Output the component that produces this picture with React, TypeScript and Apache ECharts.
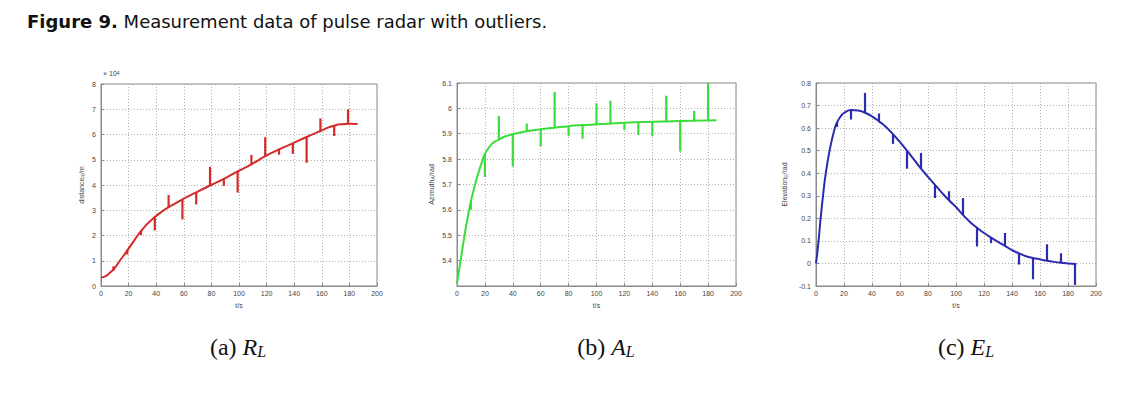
import React, { useEffect, useRef } from "react";
import * as echarts from "echarts";

// ---------- data ----------
const xTicks = [0, 20, 40, 60, 80, 100, 120, 140, 160, 180, 200];

// (a) range R_L in metres
const rT = [0, 3, 6, 10, 14, 18, 23, 28, 33, 39, 44, 49, 59, 69, 79, 89, 99, 109, 119, 129, 139, 149, 159, 165, 170, 175, 180, 186];
const rV = [3400, 3800, 5000, 7200, 10300, 13200, 17200, 21000, 24300, 27300, 29400, 31200, 34300, 37100, 39800, 42400, 45400, 48200, 51400, 54100, 56500, 59000, 61400, 62800, 63700, 64100, 64300, 64200];
const rSpikeT = [9, 19, 29, 39, 49, 59, 69, 79, 89, 99, 109, 119, 129, 139, 149, 159, 169, 179];
const rSpikeBase = [6000, 12500, 20200, 27300, 31000, 34100, 37000, 39700, 42400, 45400, 48200, 51400, 54100, 56500, 59000, 61400, 63600, 64300];
const rSpikeOut = [7800, 14500, 22000, 22000, 36000, 26400, 32300, 47200, 39600, 37000, 51900, 58900, 52000, 52300, 48800, 66400, 59400, 70000];

// (b) azimuth A_L in rad
const aT = [0, 2, 4, 6, 8, 10, 12, 15, 18, 20, 25, 30, 35, 40, 50, 60, 70, 80, 90, 100, 120, 140, 160, 186];
const aV = [5.31, 5.38, 5.45, 5.52, 5.58, 5.635, 5.68, 5.74, 5.79, 5.82, 5.86, 5.877, 5.89, 5.898, 5.91, 5.918, 5.924, 5.93, 5.934, 5.937, 5.943, 5.947, 5.95, 5.953];
const aSpikeT = [10, 20, 30, 40, 50, 60, 70, 80, 90, 100, 110, 120, 130, 140, 150, 160, 170, 180];
const aSpikeBase = [5.635, 5.82, 5.877, 5.898, 5.91, 5.918, 5.924, 5.93, 5.934, 5.937, 5.94, 5.943, 5.945, 5.947, 5.948, 5.95, 5.951, 5.952];
const aSpikeOut = [5.6, 5.73, 5.97, 5.77, 5.94, 5.85, 6.065, 5.89, 5.88, 6.02, 6.03, 5.915, 5.895, 5.89, 6.05, 5.83, 5.99, 6.1];

// (c) elevation E_L in rad
const eT = [0, 1, 2, 3, 5, 7, 10, 13, 15, 18, 20, 25, 30, 35, 40, 45, 50, 55, 60, 65, 70, 75, 80, 85, 90, 95, 100, 105, 110, 115, 120, 125, 130, 135, 140, 145, 150, 155, 160, 165, 170, 175, 180, 186];
const eV = [0, 0.05, 0.11, 0.18, 0.3, 0.4, 0.51, 0.59, 0.625, 0.655, 0.667, 0.68, 0.678, 0.668, 0.652, 0.63, 0.605, 0.573, 0.538, 0.5, 0.46, 0.42, 0.384, 0.348, 0.313, 0.28, 0.25, 0.215, 0.184, 0.158, 0.135, 0.115, 0.096, 0.078, 0.059, 0.045, 0.032, 0.024, 0.018, 0.012, 0.007, 0.003, 0, -0.003];
const eSpikeT = [15, 25, 35, 45, 55, 65, 75, 85, 95, 105, 115, 125, 135, 145, 155, 165, 175, 185];
const eSpikeBase = [0.625, 0.68, 0.668, 0.63, 0.573, 0.5, 0.42, 0.348, 0.28, 0.215, 0.158, 0.115, 0.078, 0.045, 0.024, 0.012, 0.003, -0.002];
const eSpikeOut = [0.605, 0.638, 0.756, 0.665, 0.53, 0.42, 0.49, 0.29, 0.32, 0.29, 0.075, 0.09, 0.135, -0.005, -0.07, 0.085, 0.045, -0.095];

const titleBold = "Figure 9.";
const titleRest = " Measurement data of pulse radar with outliers.";
const captions = ["(a) ", "(b) ", "(c) "];
const capVars = ["R", "A", "E"];

// ---------- helpers ----------
const labelColor = "#444";
const frameColor = "#8a8a8a";

function pairs(t: number[], v: number[]) {
  return t.map((x, i) => [x, v[i]]);
}
function spikes(t: number[], b: number[], o: number[]) {
  return t.map((x, i) => [x, b[i], o[i]]);
}

function xAxis(gridIndex: number) {
  return {
    type: "value",
    gridIndex,
    min: xTicks[0],
    max: xTicks[xTicks.length - 1],
    interval: 20,
    name: "t/s",
    nameLocation: "middle",
    nameGap: 12,
    nameTextStyle: { fontSize: 7, color: labelColor, fontFamily: "Liberation Sans" },
    axisLine: { show: true, onZero: false, lineStyle: { color: frameColor, width: 1 } },
    axisTick: { show: true, inside: true, length: 3, lineStyle: { color: frameColor } },
    axisLabel: { fontSize: 7, color: labelColor, margin: 4, fontFamily: "Liberation Sans" },
    splitLine: { show: true, lineStyle: { type: [1, 2], color: "#b0b0b0", width: 1 } },
  };
}

function yAxis(gridIndex: number, min: number, max: number, interval: number, name: string, sub: string, rest: string, gap: number, fmt?: (v: number) => string, showMin = true) {
  return {
    type: "value",
    gridIndex,
    min,
    max,
    interval,
    name: name + "{s|" + sub + "}" + rest,
    nameLocation: "middle",
    nameGap: gap,
    nameTextStyle: {
      fontSize: 7,
      color: labelColor,
      fontFamily: "Liberation Sans",
      rich: { s: { fontSize: 5, color: labelColor, fontFamily: "Liberation Sans", verticalAlign: "bottom", lineHeight: 4 } },
    },
    axisLine: { show: true, onZero: false, lineStyle: { color: frameColor, width: 1 } },
    axisTick: { show: true, inside: true, length: 3, lineStyle: { color: frameColor } },
    axisLabel: { fontSize: 7, color: labelColor, margin: 5, fontFamily: "Liberation Sans", showMinLabel: showMin, formatter: fmt },
    splitLine: { show: true, lineStyle: { type: [1, 2], color: "#b0b0b0", width: 1 } },
  };
}

function spikeSeries(idx: number, data: number[][], color: string) {
  return {
    type: "custom",
    xAxisIndex: idx,
    yAxisIndex: idx,
    data,
    encode: { x: 0, y: [1, 2] },
    z: 3,
    renderItem: (params: any, api: any) => {
      const p1 = api.coord([api.value(0), api.value(1)]);
      const p2 = api.coord([api.value(0), api.value(2)]);
      return {
        type: "line",
        shape: { x1: p1[0], y1: p1[1], x2: p2[0], y2: p2[1] },
        style: { stroke: color, lineWidth: 2.2 },
      };
    },
  };
}

function curveSeries(idx: number, data: number[][], color: string) {
  return {
    type: "line",
    xAxisIndex: idx,
    yAxisIndex: idx,
    data,
    smooth: 0.5,
    showSymbol: false,
    symbol: "none",
    z: 4,
    lineStyle: { color, width: 2 },
  };
}

const RED = "#d42a2a";
const GREEN = "#3cdc3c";
const BLUE = "#2b2bb0";

export default function App() {
  const ref = useRef<HTMLDivElement>(null);
  useEffect(() => {
    if (!ref.current) return;
    const chart = echarts.init(ref.current, undefined, { renderer: "svg" });
    const gridBase = { show: true, borderColor: frameColor, borderWidth: 1, backgroundColor: "#fff", containLabel: false };
    const capCenters = [238, 606, 966];
    const option: any = {
      animation: false,
      backgroundColor: "#fff",
      grid: [
        { ...gridBase, left: 101, top: 84, width: 276, height: 202 },
        { ...gridBase, left: 457, top: 83, width: 279, height: 203 },
        { ...gridBase, left: 816, top: 83, width: 280, height: 203 },
      ],
      xAxis: [xAxis(0), xAxis(1), xAxis(2)],
      yAxis: [
        yAxis(0, 0, 80000, 10000, "distance", "R", "/m", 16, (v: number) => String(v / 10000)),
        yAxis(1, 5.3, 6.1, 0.1, "Azimuth", "A", "/rad", 22, (v: number) => String(Math.round(v * 10) / 10), false),
        yAxis(2, -0.1, 0.8, 0.1, "Elevation", "E", "/rad", 28, (v: number) => String(Math.round(v * 10) / 10)),
      ],
      series: [
        curveSeries(0, pairs(rT, rV), RED),
        spikeSeries(0, spikes(rSpikeT, rSpikeBase, rSpikeOut), RED),
        curveSeries(1, pairs(aT, aV), GREEN),
        spikeSeries(1, spikes(aSpikeT, aSpikeBase, aSpikeOut), GREEN),
        curveSeries(2, pairs(eT, eV), BLUE),
        spikeSeries(2, spikes(eSpikeT, eSpikeBase, eSpikeOut), BLUE),
      ],
      graphic: [
        {
          type: "text",
          left: 27,
          top: 12,
          style: {
            text: "{b|" + titleBold + "}" + titleRest,
            font: "18px 'DejaVu Sans'",
            fill: "#111",
            rich: { b: { fontWeight: "bold", fontSize: 18, fontFamily: "DejaVu Sans", fill: "#111" } },
          },
        },
        {
          type: "text",
          left: 103,
          top: 70,
          style: {
            text: "× 10{s|4}",
            font: "7px 'Liberation Sans'",
            fill: labelColor,
            rich: { s: { fontSize: 5, verticalAlign: "top", fill: labelColor } },
          },
        },
        ...captions.map((c, i) => ({
          type: "text",
          x: capCenters[i],
          y: 347,
          style: {
            text: c + "{i|" + capVars[i] + "}{s|L}",
            font: "24px 'Liberation Serif'",
            fill: "#111",
            align: "center",
            verticalAlign: "middle",
            rich: {
              i: { fontStyle: "italic", fontSize: 24, fontFamily: "Liberation Serif", fill: "#111" },
              s: { fontStyle: "italic", fontSize: 16, fontFamily: "Liberation Serif", fill: "#111", verticalAlign: "bottom", padding: [7, 0, 0, 0] },
            },
          },
        })),
      ],
    };
    chart.setOption(option);
    return () => chart.dispose();
  }, []);
  return <div ref={ref} style={{ position: "absolute", left: 0, top: 0, width: 1138, height: 395 }} />;
}
